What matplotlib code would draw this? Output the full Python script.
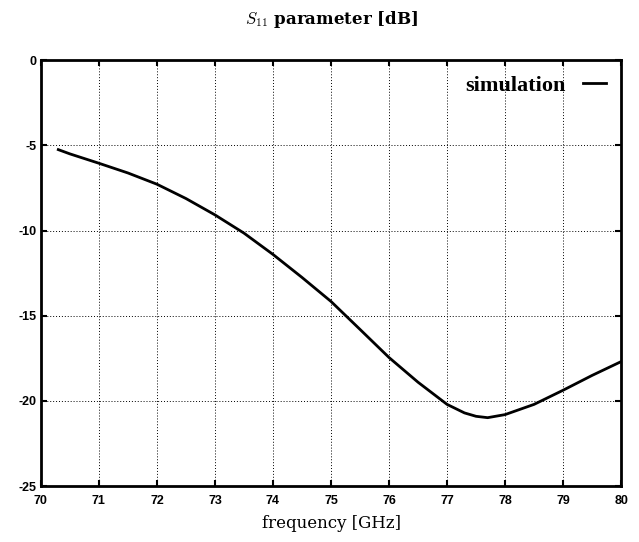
import matplotlib.pyplot as plt

# values
freq = [70.3, 70.5, 71.0, 71.5, 72.0, 72.5, 73.0, 73.5, 74.0, 74.5, 75.0, 75.5,
        76.0, 76.5, 77.0, 77.3, 77.5, 77.7, 78.0, 78.5, 79.0, 79.5, 80.0]
s11 = [-5.25, -5.5, -6.05, -6.62, -7.28, -8.12, -9.08, -10.15, -11.4, -12.75, -14.16, -15.8,
       -17.45, -18.9, -20.2, -20.7, -20.9, -20.98, -20.8, -20.2, -19.37, -18.5, -17.69]
xticks = list(range(70, 81))
yticks = [0, -5, -10, -15, -20, -25]

plt.rcParams['mathtext.fontset'] = 'cm'

fig = plt.figure(figsize=(6.39, 5.42), dpi=100)
ax = fig.add_axes([0.064, 0.103, 0.908, 0.786])

ax.plot(freq, s11, color='black', lw=2.0, label='simulation')

ax.set_xlim(70, 80)
ax.set_ylim(-25, 0)
ax.set_xticks(xticks)
ax.set_yticks(yticks)
ax.set_yticklabels([str(v) for v in yticks])
for lab in ax.get_xticklabels() + ax.get_yticklabels():
    lab.set_fontfamily('Liberation Sans')
    lab.set_fontweight('bold')
    lab.set_fontsize(9)

ax.tick_params(direction='in', length=4, width=1.5, top=True, right=True)
ax.tick_params(axis='x', pad=6)
ax.tick_params(axis='y', pad=3)
ax.grid(True, color='black', linestyle=(0, (1, 2)), linewidth=0.7)
for s in ax.spines.values():
    s.set_linewidth(2)

ax.set_xlabel('frequency [GHz]', fontfamily='DejaVu Serif', fontsize=12, labelpad=6)
ax.set_title(r'$S_{11}$ parameter [dB]', fontfamily='DejaVu Serif', fontsize=12,
             fontweight='bold', pad=26)

ax.legend(loc='upper right', frameon=False, markerfirst=False, handlelength=1.0,
          handletextpad=0.8, borderaxespad=0.3,
          prop={'family': 'Liberation Serif', 'weight': 'bold', 'size': 16})

fig.savefig('out.png', dpi=100)
